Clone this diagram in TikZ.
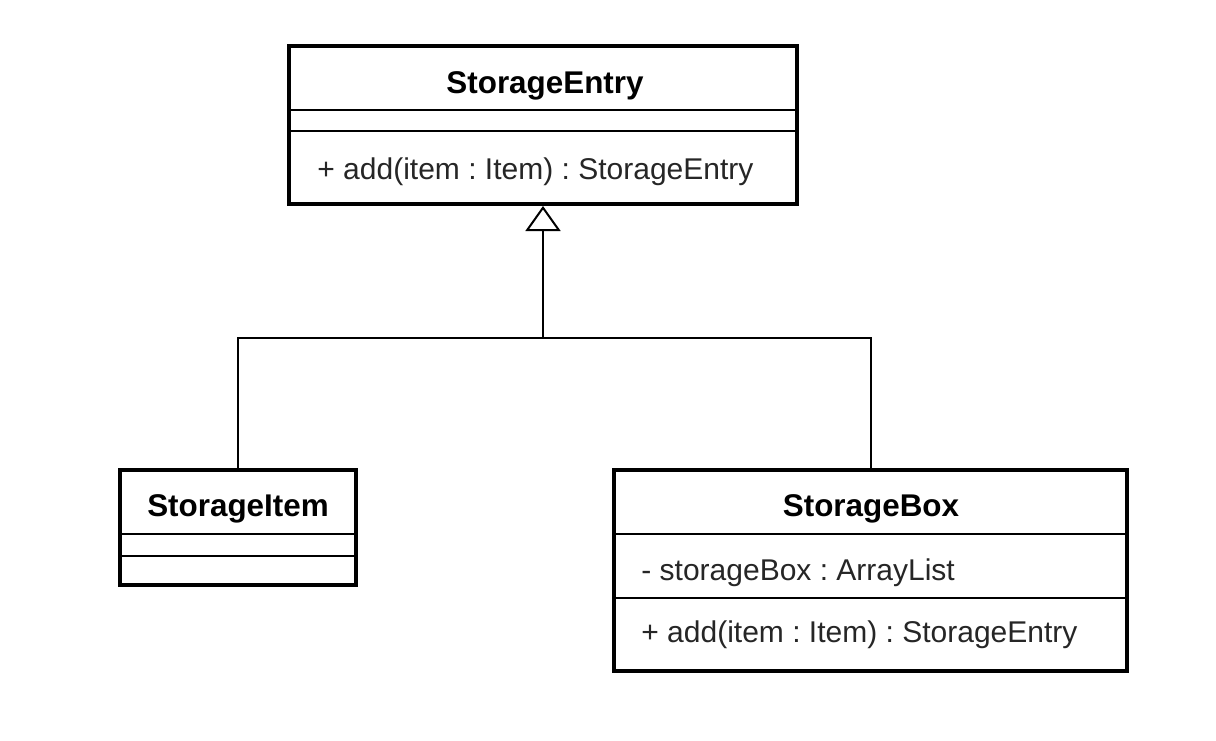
\documentclass[tikz,border=0pt]{standalone}
\usepackage{fontspec}
\setmainfont{Liberation Sans}
\usetikzlibrary{arrows.meta,positioning}

\begin{document}
\frenchspacing
\begin{tikzpicture}[x=.5pt,y=-.5pt,font=\fontsize{15pt}{18pt}\selectfont,
  cls/.style={draw,line width=2pt,inner sep=0pt},
  sep/.style={line width=.8pt},
  ttl/.style={font=\fontsize{15.7pt}{18pt}\selectfont\bfseries},
  mbr/.style={anchor=west,inner sep=0pt,text=black!85},
  gen/.style={line width=1pt,-{Triangle[open,length=12.5pt,width=17.5pt,line width=1pt]}}]
\useasboundingbox[fill=white] (0,0) rectangle (1216,740);
% classes
\node[cls,minimum width=254pt,minimum height=79pt] (entry) at (543,125) {};
\node[cls,minimum width=118pt,minimum height=57.5pt] (item) at (238,527.5) {};
\node[cls,minimum width=256.5pt,minimum height=100.5pt] (box) at (870.5,570.5) {};
% compartments
\draw[sep] (entry.west |- 0,110) -- (entry.east |- 0,110);
\draw[sep] (entry.west |- 0,131) -- (entry.east |- 0,131);
\draw[sep] (item.west |- 0,534) -- (item.east |- 0,534);
\draw[sep] (item.west |- 0,556) -- (item.east |- 0,556);
\draw[sep] (box.west |- 0,534) -- (box.east |- 0,534);
\draw[sep] (box.west |- 0,598) -- (box.east |- 0,598);
% texts
\node[ttl] (entryname) at (545,86) {StorageEntry};
\node[mbr] (entryadd) at (317,172) {+ add(item : Item) : StorageEntry};
\node[ttl] (itemname) at (238,509) {StorageItem};
\node[ttl] (boxname) at (871,509) {StorageBox};
\node[mbr] (boxattr) at (641,573) {- storageBox : ArrayList};
\node[mbr] (boxadd) at (641,635) {+ add(item : Item) : StorageEntry};
% inheritance
\coordinate (join) at (543,338);
\draw[line width=1pt] (item.north) |- (join) -| (box.north);
\draw[gen] (join) -- (entry.south);
\end{tikzpicture}
\end{document}
